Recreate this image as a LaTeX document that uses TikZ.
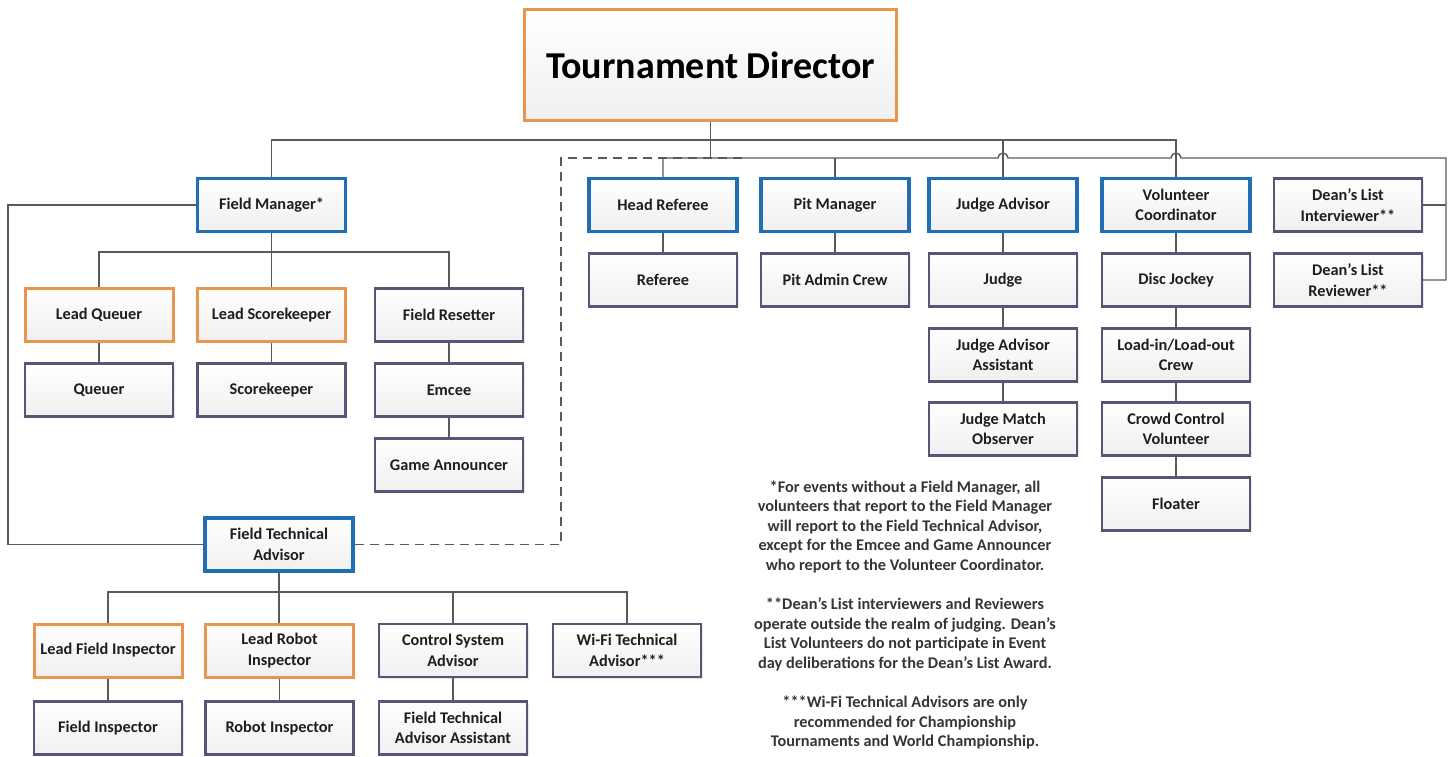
\documentclass[tikz,border=0pt]{standalone}
\usepackage{fontspec}
\setmainfont{Carlito}
\usetikzlibrary{shadows}
\definecolor{mgrblue}{HTML}{1F6EB6}
\definecolor{leadorange}{HTML}{E8964E}
\definecolor{crewpurple}{HTML}{5E5279}
\definecolor{wirecol}{HTML}{5A5A5A}
\definecolor{ink}{HTML}{1E1E1E}
\tikzset{
  role/.style={rectangle, minimum width=148pt, minimum height=53pt, inner sep=2pt,
    align=center, top color=white, bottom color=gray!12, text=ink,
    font=\fontsize{16.3}{20.5}\selectfont\bfseries,
    drop shadow={opacity=0.18, shadow xshift=1.5pt, shadow yshift=-1.5pt}},
  mgr/.style={role, draw=mgrblue, line width=3.2pt},
  lead/.style={role, draw=leadorange, line width=3pt},
  crew/.style={role, draw=crewpurple, line width=2.2pt},
  wire/.style={draw=wirecol, line width=1.4pt},
  notetext/.style={align=center, inner sep=0pt, text=ink!90,
    font=\fontsize{16.3}{19.6}\selectfont\bfseries}
}
\begin{document}
\begin{tikzpicture}[x=1pt,y=1pt]
    \useasboundingbox (0,0) rectangle (1450,-757);

    \node[lead, minimum width=372pt, minimum height=111pt,
      font=\fontsize{38}{40}\selectfont\bfseries, text=black] (td) at (710.5,-65) {Tournament Director};

    \node[mgr] (fm) at (271.5,-205) {Field Manager*};
    \node[lead] (lq) at (99,-315) {Lead Queuer};
    \node[lead] (ls) at (271.5,-315) {Lead Scorekeeper};
    \node[crew] (fr) at (449,-315) {Field Resetter};
    \node[crew] (qu) at (99,-390) {Queuer};
    \node[crew] (sk) at (271.5,-390) {Scorekeeper};
    \node[crew] (em) at (449,-390) {Emcee};
    \node[crew] (ga) at (449,-465) {Game Announcer};

    \node[mgr] (fta) at (279,-544.5) {Field Technical\\Advisor};
    \node[lead] (lfi) at (108,-650.5) {Lead Field Inspector};
    \node[lead] (lri) at (279.5,-650.5) {Lead Robot\\Inspector};
    \node[crew] (csa) at (453,-650.5) {Control System\\Advisor};
    \node[crew] (wifi) at (627,-650.5) {Wi-Fi Technical\\Advisor***};
    \node[crew] (fi) at (108,-728) {Field Inspector};
    \node[crew] (ri) at (279.5,-728) {Robot Inspector};
    \node[crew] (ftaa) at (453,-728) {Field Technical\\Advisor Assistant};

    \node[mgr] (hr) at (663,-205) {Head Referee};
    \node[crew] (ref) at (663,-280) {Referee};
    \node[mgr] (pm) at (835,-205) {Pit Manager};
    \node[crew] (pac) at (835,-280) {Pit Admin Crew};
    \node[mgr] (ja) at (1003,-205) {Judge Advisor};
    \node[crew] (judge) at (1003,-280) {Judge};
    \node[crew] (jaa) at (1003,-355) {Judge Advisor\\Assistant};
    \node[crew] (jmo) at (1003,-429) {Judge Match\\Observer};
    \node[mgr] (vc) at (1176,-205) {Volunteer\\Coordinator};
    \node[crew] (dj) at (1176,-280) {Disc Jockey};
    \node[crew] (lio) at (1176,-355) {Load-in/Load-out\\Crew};
    \node[crew] (ccv) at (1176,-429) {Crowd Control\\Volunteer};
    \node[crew] (flt) at (1176,-504) {Floater};
    \node[crew] (dli) at (1348,-205) {Dean’s List\\Interviewer**};
    \node[crew] (dlr) at (1348,-280) {Dean’s List\\Reviewer**};

    \coordinate (busA) at (0,-140);
    \coordinate (busB) at (0,-158);
    \coordinate (fmbus) at (0,-252);
    \coordinate (ftabus) at (0,-592);
    \coordinate (loopL) at (8,0);
    \coordinate (rail) at (1446,0);
    \coordinate (dashC) at (561,-158);
    \coordinate (dashE) at (747,-158);

    \draw[wire] (fm.north) |- (busA -| vc.north) -- (vc.north);
    \draw[wire] (td.south) -- (td.south |- busB);
    \draw[wire] (ja.north) -- (ja.north |- busA);
    \draw[wire] (hr.north) |- ([xshift=-5pt]busB -| ja.north)
        arc[start angle=180, end angle=0, radius=5pt]
        -- ([xshift=-5pt]busB -| vc.north)
        arc[start angle=180, end angle=0, radius=5pt]
        -- (busB -| rail) |- (dlr.east);
    \draw[wire] (dli.east) -- (dli.east -| rail);
    \draw[wire] (pm.north) -- (pm.north |- busB);

    \draw[wire] (fm.west) -- (fm.west -| loopL) |- (fta.west);
    \draw[wire, dash pattern=on 9pt off 6pt] (fta.east) -| (dashC) -- (dashE);

    \draw[wire] (lq.north) |- (fmbus -| fr.north) -- (fr.north);
    \draw[wire] (fm.south) -- (ls.north);
    \draw[wire] (lfi.north) |- (ftabus -| wifi.north) -- (wifi.north);
    \draw[wire] (fta.south) -- (fta.south |- lri.north);
    \draw[wire] (csa.north) -- (csa.north |- ftabus);

    \foreach \up/\down in {lq/qu, ls/sk, fr/em, em/ga, hr/ref, pm/pac, ja/judge,
        judge/jaa, jaa/jmo, vc/dj, dj/lio, lio/ccv, ccv/flt, lfi/fi, lri/ri, csa/ftaa}
      \draw[wire] (\up.south) -- (\down.north);

    \node[notetext] (notes) at (905,-615) {*For events without a Field Manager, all\\
      volunteers that report to the Field Manager\\
      will report to the Field Technical Advisor,\\
      except for the Emcee and Game Announcer\\
      who report to the Volunteer Coordinator.\\[19.6pt]
      **Dean’s List interviewers and Reviewers\\
      operate outside the realm of judging. Dean’s\\
      List Volunteers do not participate in Event\\
      day deliberations for the Dean’s List Award.\\[19.6pt]
      ***Wi-Fi Technical Advisors are only\\
      recommended for Championship\\
      Tournaments and World Championship.};
\end{tikzpicture}
\end{document}
